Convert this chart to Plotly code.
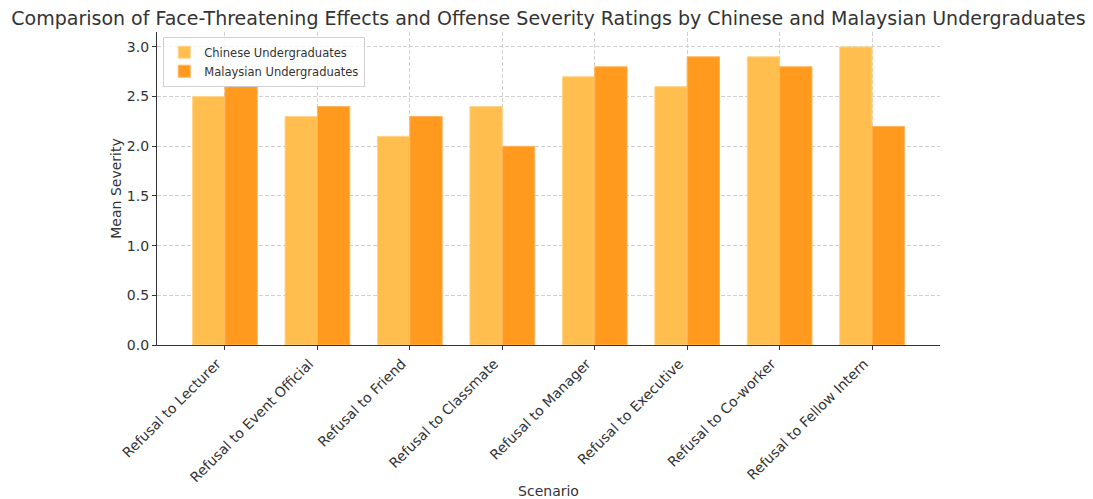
import plotly.graph_objects as go

scenarios = [
    "Refusal to Lecturer", "Refusal to Event Official", "Refusal to Friend",
    "Refusal to Classmate", "Refusal to Manager", "Refusal to Executive",
    "Refusal to Co-worker", "Refusal to Fellow Intern",
]
chinese = [2.5, 2.3, 2.1, 2.4, 2.7, 2.6, 2.9, 3.0]
malaysian = [2.6, 2.4, 2.3, 2.0, 2.8, 2.9, 2.8, 2.2]
y_ticks = [0.0, 0.5, 1.0, 1.5, 2.0, 2.5, 3.0]

font_family = "DejaVu Sans"

fig = go.Figure()
fig.add_trace(go.Bar(
    x=scenarios, y=chinese, name="Chinese Undergraduates",
    marker=dict(color="#FFBE4E", line=dict(color="#FFD48A", width=1)),
))
fig.add_trace(go.Bar(
    x=scenarios, y=malaysian, name="Malaysian Undergraduates",
    marker=dict(color="#FF9A1E", line=dict(color="#FFB45C", width=1)),
))

fig.update_layout(
    width=1093, height=499,
    margin=dict(l=157, r=153, t=32, b=154, autoexpand=False),
    paper_bgcolor="white", plot_bgcolor="white",
    font=dict(family=font_family, size=14, color="#333333"),
    barmode="group", bargap=0.3, bargroupgap=0,
    title=dict(
        text="Comparison of Face-Threatening Effects and Offense Severity Ratings by Chinese and Malaysian Undergraduates",
        x=0.5, xref="paper", xanchor="center", y=0.963, yanchor="middle",
        font=dict(family=font_family, size=19, color="#333333"),
    ),
    legend=dict(
        x=0.008, y=0.985, xanchor="left", yanchor="top",
        bgcolor="rgba(255,255,255,0.8)", bordercolor="#d0d0d0", borderwidth=1,
        font=dict(size=11.5, color="#333333"),
        itemwidth=30, tracegroupgap=0,
    ),
    showlegend=True,
)

fig.update_xaxes(
    title=dict(text="Scenario", font=dict(size=14), standoff=14),
    tickangle=-45, tickfont=dict(size=14), automargin=False,
    ticklabelshift=-8,
    showline=True, linecolor="#333333", linewidth=1.3,
    ticks="outside", ticklen=4, tickcolor="#333333",
    showgrid=True, gridcolor="#d0d0d0", griddash="4px,2px", gridwidth=0.8,
    range=[-0.735, 7.735],
)
fig.update_yaxes(
    title=dict(text="Mean Severity", font=dict(size=14), standoff=1),
    range=[0, 3.15], tickvals=y_ticks, automargin=False,
    ticktext=[f"{v:.1f}" for v in y_ticks], tickfont=dict(size=14),
    showline=True, linecolor="#333333", linewidth=1.3,
    ticks="outside", ticklen=4, tickcolor="#333333",
    showgrid=True, gridcolor="#d0d0d0", griddash="4px,2px", gridwidth=0.8,
    zeroline=False,
)

fig.write_html("out.html")
